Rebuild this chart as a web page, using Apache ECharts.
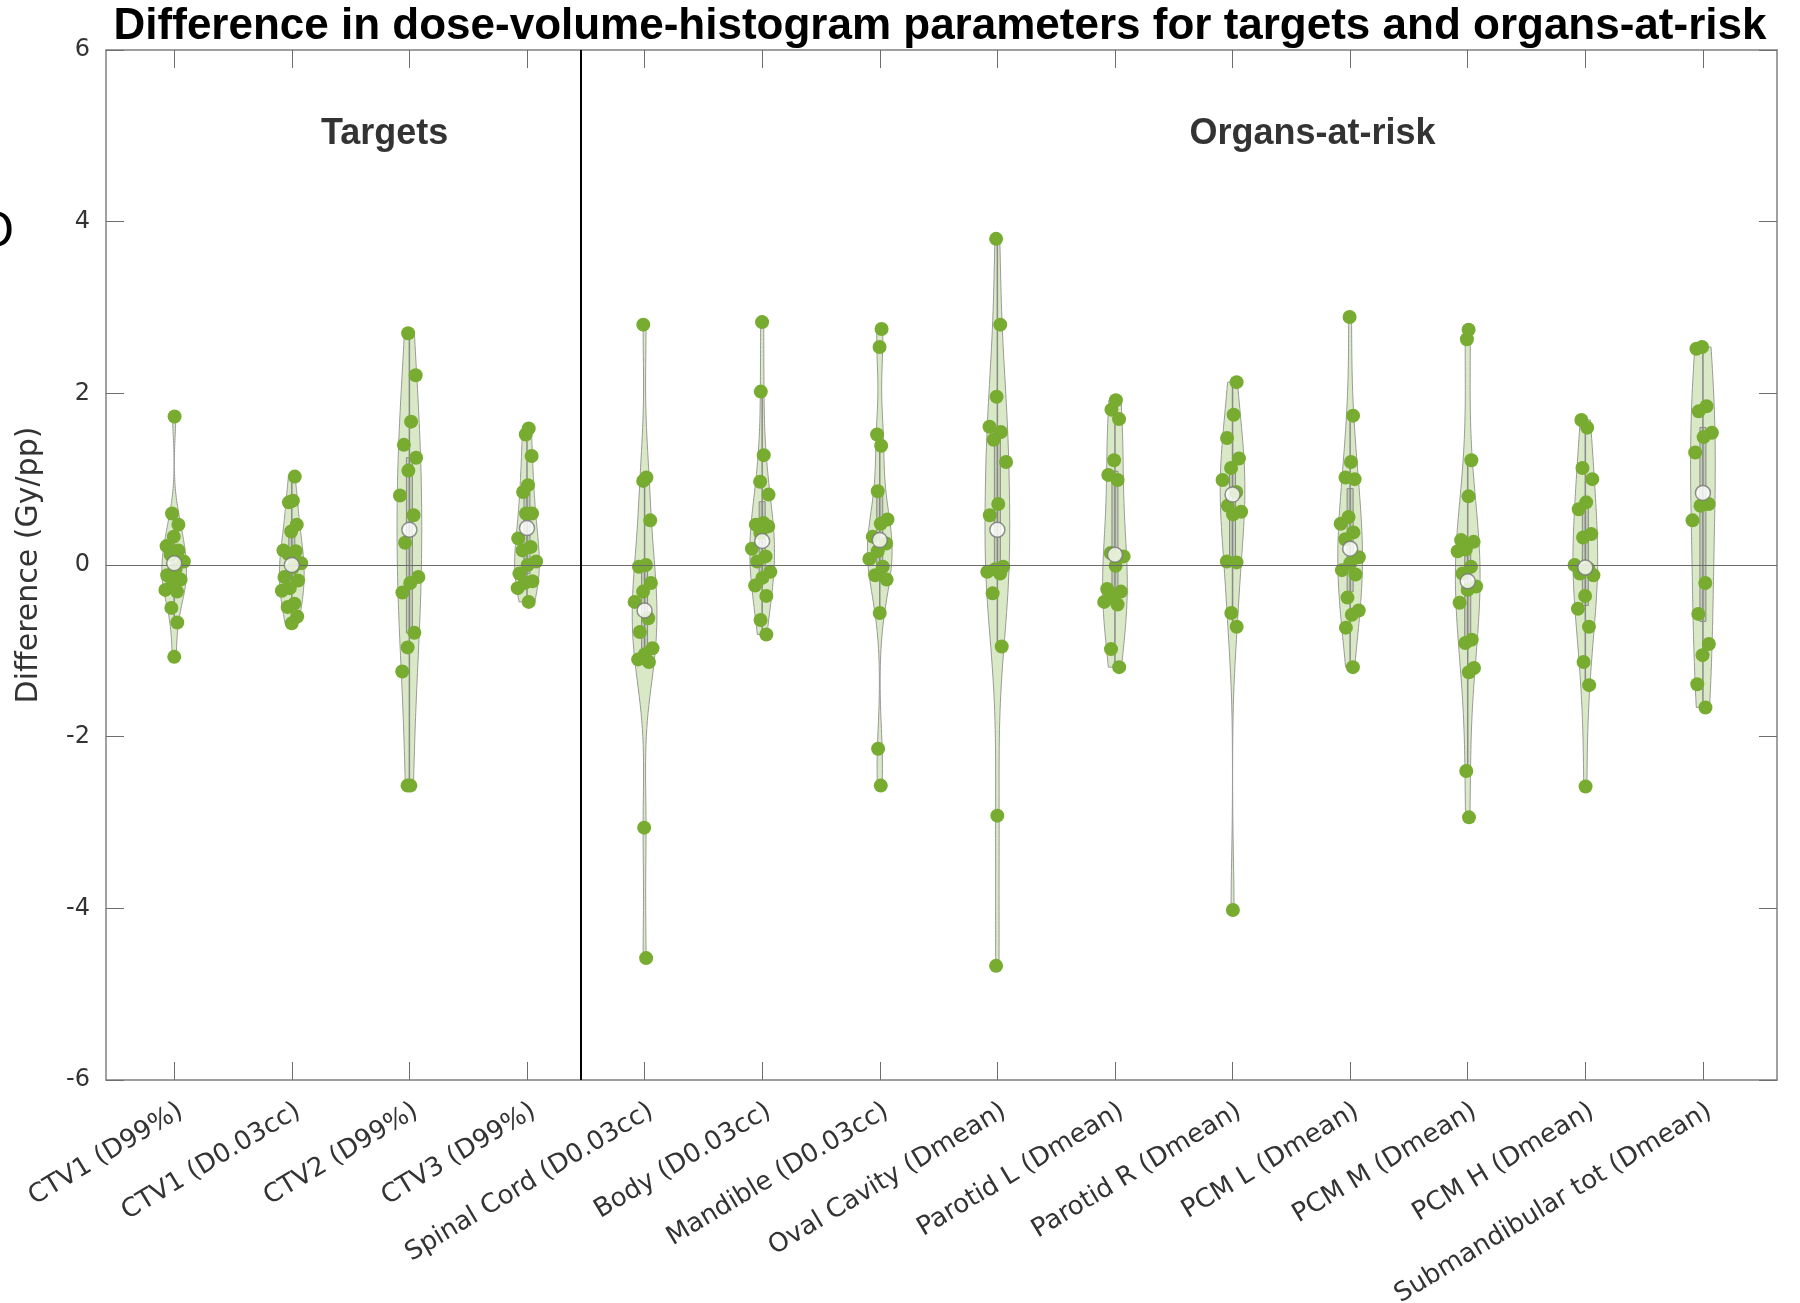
<!DOCTYPE html>
<html>
<head>
<meta charset="utf-8">
<script src="https://cdn.jsdelivr.net/npm/echarts@6/dist/echarts.min.js"></script>
<style>
html,body{margin:0;padding:0;background:#fff;}
#chart{width:1800px;height:1303px;}
</style>
</head>
<body>
<div id="chart"></div>
<script>
// ---------------- DATA ----------------
const categories = ['CTV1 (D99%)','CTV1 (D0.03cc)','CTV2 (D99%)','CTV3 (D99%)','Spinal Cord (D0.03cc)','Body (D0.03cc)','Mandible (D0.03cc)','Oval Cavity (Dmean)','Parotid L (Dmean)','Parotid R (Dmean)','PCM L (Dmean)','PCM M (Dmean)','PCM H (Dmean)','Submandibular tot (Dmean)'];
const yTickValues = [-6, -4, -2, 0, 2, 4, 6];

const ctv1D99      = [1.73, 0.60, 0.47, 0.33, 0.22, 0.17, 0.12, 0.04, -0.05, -0.12, -0.17, -0.21, -0.29, -0.31, -0.50, -0.67, -1.07];
const ctv1D003     = [1.03, 0.75, 0.73, 0.47, 0.39, 0.17, 0.16, 0.13, 0.02, -0.03, -0.14, -0.18, -0.27, -0.30, -0.45, -0.49, -0.60, -0.68];
const ctv2D99      = [2.70, 2.21, 1.67, 1.40, 1.25, 1.10, 0.81, 0.58, 0.26, -0.14, -0.21, -0.32, -0.79, -0.96, -1.24, -2.57, -2.57];
const ctv3D99      = [1.59, 1.52, 1.27, 0.93, 0.85, 0.60, 0.60, 0.31, 0.21, 0.17, 0.04, 0.00, -0.10, -0.19, -0.21, -0.27, -0.43];
const spinalCord   = [2.80, 1.02, 0.98, 0.52, 0.00, -0.02, -0.21, -0.31, -0.43, -0.62, -0.78, -0.97, -1.04, -1.10, -1.13, -3.06, -4.58];
const body         = [2.83, 2.02, 1.28, 0.97, 0.82, 0.49, 0.47, 0.45, 0.37, 0.19, 0.10, 0.04, -0.08, -0.15, -0.24, -0.36, -0.64, -0.81];
const mandible     = [2.75, 2.54, 1.52, 1.39, 0.86, 0.53, 0.48, 0.33, 0.25, 0.16, 0.07, -0.02, -0.12, -0.17, -0.56, -2.14, -2.57];
const ovalCavity   = [3.80, 2.80, 1.96, 1.61, 1.55, 1.46, 1.20, 0.71, 0.58, -0.02, -0.05, -0.08, -0.10, -0.33, -0.95, -2.92, -4.67];
const parotidL     = [1.92, 1.81, 1.70, 1.22, 1.05, 0.99, 0.14, 0.10, -0.01, -0.28, -0.31, -0.36, -0.43, -0.46, -0.98, -1.19];
const parotidR     = [2.13, 1.75, 1.48, 1.24, 1.13, 0.99, 0.85, 0.69, 0.62, 0.59, 0.04, 0.03, -0.56, -0.72, -4.02];
const pcmL         = [2.89, 1.74, 1.20, 1.02, 1.00, 0.56, 0.48, 0.38, 0.30, 0.09, 0.02, -0.06, -0.11, -0.38, -0.53, -0.58, -0.73, -1.19];
const pcmM         = [2.74, 2.63, 1.22, 0.80, 0.29, 0.27, 0.18, 0.16, -0.02, -0.10, -0.25, -0.29, -0.44, -0.87, -0.91, -1.20, -1.25, -2.40, -2.94];
const pcmH         = [1.69, 1.60, 1.13, 1.00, 0.73, 0.65, 0.36, 0.32, 0.00, -0.04, -0.10, -0.12, -0.36, -0.51, -0.72, -1.13, -1.40, -2.58];
const submandTot   = [2.54, 2.52, 1.85, 1.79, 1.54, 1.49, 1.31, 0.71, 0.69, 0.52, -0.21, -0.57, -0.92, -1.05, -1.39, -1.66];

const medians = [0.02, 0.00, 0.41, 0.43, -0.53, 0.28, 0.29, 0.41, 0.12, 0.82, 0.19, -0.19, -0.03, 0.84];

const groupLabels = ['Targets', 'Organs-at-risk'];
const groupLabelPos = [[2.79, 5.02], [10.68, 5.02]];
const separatorX = 4.46;

// ---------------- HELPERS ----------------
const groups = [ctv1D99, ctv1D003, ctv2D99, ctv3D99, spinalCord, body, mandible, ovalCavity, parotidL, parotidR, pcmL, pcmM, pcmH, submandTot];
const GREEN = 'rgb(119,172,48)';
const HALF_W = 0.105;

function median(a){const s=[...a].sort((x,y)=>x-y);const n=s.length;return n%2?s[(n-1)/2]:(s[n/2-1]+s[n/2])/2;}
function quantile(a,p){const s=[...a].sort((x,y)=>x-y);const pos=(s.length-1)*p;const lo=Math.floor(pos),hi=Math.ceil(pos);return s[lo]+(s[hi]-s[lo])*(pos-lo);}
function bandwidth(a){const m=median(a);const mad=median(a.map(v=>Math.abs(v-m)));let sig=mad/0.6745;if(sig<=0)sig=0.1;return sig*Math.pow(4/(3*a.length),0.2);}
function makeKde(a){const h=bandwidth(a);const lo=Math.min(...a),hi=Math.max(...a);const N=80;const ys=[],ds=[];
  for(let i=0;i<=N;i++){const y=lo+(hi-lo)*i/N;let d=0;for(const v of a){const u=(y-v)/h;d+=Math.exp(-0.5*u*u);}ys.push(y);ds.push(d);}
  const mx=Math.max(...ds);
  const f=(y)=>{let d=0;for(const v of a){const u=(y-v)/h;d+=Math.exp(-0.5*u*u);}return d/mx;};
  return {ys, ds: ds.map(d=>d/mx), f};}
const kdes = groups.map(makeKde);

// points with deterministic jitter inside the violin
const pointData = [];
groups.forEach((g,gi)=>{
  g.forEach((v,i)=>{
    const frac = (((i+1)*0.6180339887 + gi*0.3711) % 1)*2 - 1;
    const w = Math.max(kdes[gi].f(v)*HALF_W, 0.015);
    pointData.push([gi+1 + frac*w*0.9, v]);
  });
});
const medianData = medians.map((m,i)=>[i+1, m]);

// ---------------- CHART ----------------
const chart = echarts.init(document.getElementById('chart'), null, {renderer:'canvas'});
const tickCustom = categories.map((c,i)=>i+1);
const axisGray = '#808080';
const txt = '#333333';
const FONT = 'DejaVu Sans';

const option = {
  animation:false,
  backgroundColor:'#fff',
  grid:{left:106, right:23, top:50, bottom:223, containLabel:false, outerBoundsMode:'none'},
  xAxis:[
    {type:'value', min:0.42, max:14.63, position:'bottom',
     axisLine:{show:true, onZero:false, lineStyle:{color:axisGray, width:1.5}},
     axisTick:{show:true, inside:true, length:18, customValues:tickCustom, lineStyle:{color:'#6e6e6e', width:1}},
     axisLabel:{show:true, customValues:tickCustom, rotate:31, margin:18, verticalAlign:'top', fontFamily:FONT, fontSize:26, color:txt,
       formatter:(v)=>categories[Math.round(v)-1] || ''},
     splitLine:{show:false}},
    {type:'value', min:0.42, max:14.63, position:'top',
     axisLine:{show:true, onZero:false, lineStyle:{color:axisGray, width:1.5}},
     axisTick:{show:true, inside:true, length:18, customValues:tickCustom, lineStyle:{color:'#6e6e6e', width:1}},
     axisLabel:{show:false}, splitLine:{show:false}}
  ],
  yAxis:[
    {type:'value', min:-6, max:6, interval:2, position:'left',
     axisLine:{show:true, onZero:false, lineStyle:{color:axisGray, width:1.5}},
     axisTick:{show:true, inside:true, length:18, lineStyle:{color:'#6e6e6e', width:1}},
     axisLabel:{show:true, margin:16, fontFamily:FONT, fontSize:24, color:txt,
       formatter:(v)=> yTickValues.includes(v) ? String(v) : ''},
     splitLine:{show:false},
     name:'Difference (Gy/pp)', nameLocation:'middle', nameRotate:90, nameGap:62,
     nameTextStyle:{fontFamily:FONT, fontSize:30, color:txt}},
    {type:'value', min:-6, max:6, interval:2, position:'right',
     axisLine:{show:true, onZero:false, lineStyle:{color:axisGray, width:1.5}},
     axisTick:{show:true, inside:true, length:18, lineStyle:{color:'#6e6e6e', width:1}},
     axisLabel:{show:false}, splitLine:{show:false}}
  ],
  graphic:[
    {type:'text', x:940, y:27, style:{text:'Difference in dose-volume-histogram parameters for targets and organs-at-risk',
      fontFamily:'Liberation Sans', fontWeight:'bold', fontSize:44, fill:'#000', textAlign:'center', textVerticalAlign:'middle'}},
    {type:'text', x:-22, y:234, style:{text:'O', fontFamily:FONT, fontSize:46, fill:'#000', textAlign:'left', textVerticalAlign:'middle'}}
  ],
  series:[
    {type:'custom', name:'violin', coordinateSystem:'cartesian2d', xAxisIndex:0, yAxisIndex:0, z:2, silent:true,
     data: groups.map((g,i)=>[i+1]),
     renderItem:(params, api)=>{
       const gi = params.dataIndex; const x = api.value(0); const k = kdes[gi]; const g = groups[gi];
       const left=[], right=[];
       for(let i=0;i<k.ys.length;i++){ left.push(api.coord([x - k.ds[i]*HALF_W, k.ys[i]])); }
       for(let i=k.ys.length-1;i>=0;i--){ right.push(api.coord([x + k.ds[i]*HALF_W, k.ys[i]])); }
       const poly = left.concat(right);
       const q1 = quantile(g,0.25), q3 = quantile(g,0.75), iqr=q3-q1;
       const lo = Math.min(...g.filter(v=>v>=q1-1.5*iqr)), hi = Math.max(...g.filter(v=>v<=q3+1.5*iqr));
       const pLo = api.coord([x, lo]), pHi = api.coord([x, hi]);
       const pQ1 = api.coord([x, q1]), pQ3 = api.coord([x, q3]);
       return {type:'group', children:[
         {type:'polygon', shape:{points:poly}, style:{fill:'rgba(119,172,48,0.28)', stroke:'#9a9a9a', lineWidth:1}},
         {type:'line', shape:{x1:pLo[0], y1:pLo[1], x2:pHi[0], y2:pHi[1]}, style:{stroke:'#8a8a8a', lineWidth:1.5}},
         {type:'rect', shape:{x:pQ3[0]-3, y:pQ3[1], width:6, height:pQ1[1]-pQ3[1]}, style:{fill:'rgba(128,128,128,0.25)', stroke:'#8a8a8a', lineWidth:1}}
       ]};
     }},
    {type:'scatter', name:'refs', xAxisIndex:0, yAxisIndex:0, z:3, data:[], silent:true,
     markLine:{silent:true, symbol:['none','none'], label:{show:false},
       data:[
         {yAxis:0, lineStyle:{color:'#6a6a6a', width:1.2, type:'solid'}},
         {xAxis:separatorX, lineStyle:{color:'#000', width:2, type:'solid'}}
       ]}},
    {type:'scatter', name:'points', xAxisIndex:0, yAxisIndex:0, z:4, silent:true,
     symbol:'circle', symbolSize:14, itemStyle:{color:GREEN, opacity:1}, data:pointData},
    {type:'scatter', name:'median', xAxisIndex:0, yAxisIndex:0, z:5, silent:true,
     symbol:'circle', symbolSize:15, itemStyle:{color:'#fff', borderColor:'#777', borderWidth:1.5}, data:medianData},
    {type:'scatter', name:'groupLabels', xAxisIndex:0, yAxisIndex:0, z:6, silent:true,
     symbolSize:0, data: groupLabelPos.map((p,i)=>[p[0], p[1], groupLabels[i]]),
     label:{show:true, position:'inside', formatter:(p)=>p.value[2], fontFamily:'Liberation Sans', fontWeight:'bold', fontSize:36, color:'#000', textBorderWidth:0}}
  ]
};
chart.setOption(option);
</script>
</body>
</html>
